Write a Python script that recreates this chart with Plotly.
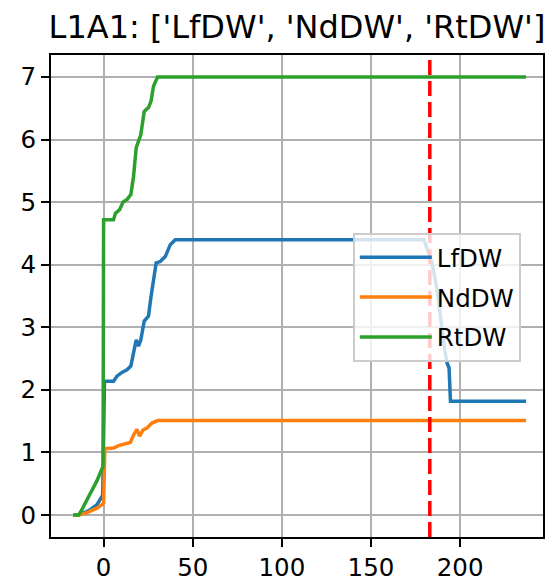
import plotly.graph_objects as go

# ---- data ----
lf_days = [-17, -14, -10, -7.5, -3.7, -1.8, -0.5, 0.5, 5.6, 7.5, 10.3, 13.1, 15.3, 16.8, 18.3, 19.6,
           20.9, 22.8, 25.2, 26.6, 28.0, 29.5, 31.8, 34.6, 37.4, 40.2, 179.7, 182.1, 184.0,
           186.8, 189.0, 191.4, 192.7, 193.8, 194.6, 237]
lf_vals = [0, 0, 0.05, 0.085, 0.165, 0.27, 0.32, 2.14, 2.14, 2.22, 2.28, 2.32, 2.38, 2.59, 2.80, 2.70,
           2.80, 3.10, 3.18, 3.49, 3.76, 4.03, 4.05, 4.13, 4.32, 4.40, 4.40, 4.21, 4.05,
           3.65, 3.15, 2.64, 2.43, 2.35, 1.82, 1.82]

nd_days = [-17, -14, -9.3, -3.7, -0.9, 0, 0.7, 5.6, 8.4, 12.2, 15.0, 16.8, 18.7, 20.2, 22.1, 24.3,
           27.1, 30.3, 237]
nd_vals = [0, 0, 0.04, 0.11, 0.165, 0.19, 1.06, 1.07, 1.11, 1.14, 1.16, 1.28, 1.37, 1.26, 1.36, 1.39,
           1.47, 1.51, 1.51]

rt_days = [-17, -14, -12.5, -11.2, -9.3, -6.5, -3.7, -1.5, -0.3, 0, 5.6, 6.6, 9.0, 10.9, 13.1, 15.3, 16.8,
           18.3, 19.6, 20.9, 22.8, 25.2, 26.6, 28.0, 30.3, 237]
rt_vals = [0, 0, 0.07, 0.14, 0.24, 0.40, 0.55, 0.70, 0.78, 4.72, 4.72, 4.82, 4.88, 5.0, 5.04, 5.12, 5.41,
           5.87, 5.96, 6.08, 6.45, 6.51, 6.61, 6.85, 7.0, 7.0]

event_day = 183
x_ticks = [0, 50, 100, 150, 200]
y_ticks = [0, 1, 2, 3, 4, 5, 6, 7]
title_text = "L1A1: ['LfDW', 'NdDW', 'RtDW']"

series = [("LfDW", lf_days, lf_vals, "#1f77b4"),
          ("NdDW", nd_days, nd_vals, "#ff7f0e"),
          ("RtDW", rt_days, rt_vals, "#2ca02c")]

FONT = "DejaVu Sans"

fig = go.Figure()
for name, xs, ys, col in series:
    fig.add_trace(go.Scatter(x=xs, y=ys, mode="lines", name=name, legendgroup=name,
                             line=dict(color=col, width=3.5)))

fig.add_shape(type="line", xref="x", yref="paper", x0=event_day, x1=event_day, y0=0, y1=1,
              line=dict(color="red", width=3.5, dash="15px,6px"), layer="above")

axis_common = dict(showline=True, linecolor="black", linewidth=1.8, mirror=True,
                   ticks="outside", ticklen=8, tickwidth=1.8, tickcolor="black",
                   showgrid=True, gridcolor="#b0b0b0", gridwidth=1.8, zeroline=False,
                   automargin=False,
                   tickfont=dict(family=FONT, size=24.5, color="black"))

fig.update_xaxes(range=[-29.5, 246.5], tickvals=x_ticks, **axis_common)
fig.update_yaxes(range=[-0.35, 7.35], tickvals=y_ticks, **axis_common)

fig.update_layout(
    width=547, height=585,
    margin=dict(l=51, r=4, t=55, b=48, autoexpand=False),
    plot_bgcolor="white", paper_bgcolor="white",
    title=dict(text=title_text, x=297 / 547, xanchor="center",
               y=1 - 38 / 585, yanchor="bottom",
               font=dict(family=FONT, size=32, color="black")),
    legend=dict(x=(353 - 51) / 492, y=(537 - 233) / 482, xanchor="left", yanchor="top",
                bgcolor="rgba(255,255,255,0.8)", bordercolor="#cccccc", borderwidth=1.8,
                font=dict(family=FONT, size=24.5, color="black"),
                tracegroupgap=5, itemwidth=72),
    showlegend=True,
)

fig.write_html("out.html", config={"displayModeBar": False},
               post_script="document.body.style.margin='0';")
